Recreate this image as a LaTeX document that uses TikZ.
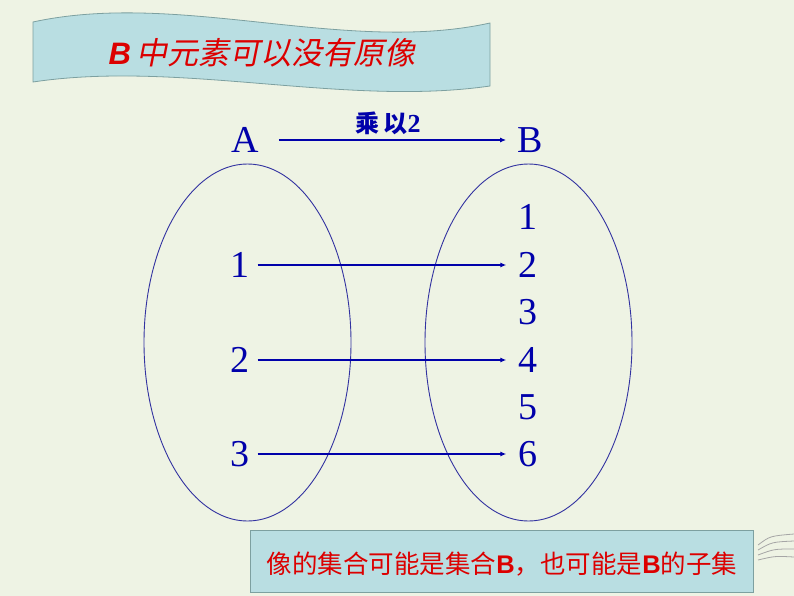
\documentclass[tikz,border=0pt]{standalone}
\usepackage{fontspec}
\setmainfont{Liberation Serif}
\setsansfont{Liberation Sans}
\newfontfamily\cjk{Noto Sans CJK SC}
\newfontfamily\cjkit[FakeSlant=0.2]{Noto Sans CJK SC}
\usepackage{tikz}
\usetikzlibrary{arrows.meta}
\definecolor{bgcol}{RGB}{238,243,228}
\definecolor{bannercol}{RGB}{185,222,226}
\definecolor{edgecol}{RGB}{125,160,160}
\definecolor{setblue}{RGB}{0,0,170}
\definecolor{ringblue}{RGB}{50,50,160}
\definecolor{redtext}{RGB}{220,0,0}
\tikzset{
  elem/.style={text=setblue,font=\fontsize{38}{38}\selectfont,inner sep=0pt},
  maparrow/.style={setblue,line width=1.2pt,-{Latex[length=6pt,width=5pt]}},
  ring/.style={ringblue,line width=0.9pt},
}

\begin{document}
\begin{tikzpicture}[x=1pt,y=-1pt]
            \fill[bgcol] (0,0) rectangle (794,596);
            \useasboundingbox (0,0) rectangle (794,596);

            \filldraw[fill=bannercol,draw=edgecol,line width=0.8pt] (33,22) .. controls (180,-10) and (345,55) .. (490,23)
              -- (490,86) .. controls (345,107) and (180,60) .. (33,82) -- cycle;
            \node[text=redtext,inner sep=0pt] (title) at (262,53)
              {\fontsize{31}{31}\selectfont{\sffamily\bfseries\itshape B}\,{\cjkit\mdseries 中元素可以没有原像}};

            \draw[ring] (247.5,342.5) ellipse [x radius=103.5,y radius=178.5];
            \draw[ring] (528.5,342.5) ellipse [x radius=103.5,y radius=178.5];

            \node[elem,inner xsep=0pt] (A) at (245,140) {A};
            \node[elem] (B) at (530,140) {B};
            \draw[maparrow,shorten <=20pt,shorten >=11pt] (A) -- node[above=5pt,text=setblue,inner sep=0pt]
              {\cjk\bfseries\fontsize{24}{24}\selectfont 乘\,以{\rmfamily\bfseries\fontsize{26}{26}\selectfont 2}} (B);

            \node[elem,inner xsep=8pt] (a1) at (240,265) {1};
            \node[elem,inner xsep=8pt] (a2) at (240,360) {2};
            \node[elem,inner xsep=8pt] (a3) at (240,454) {3};

            \node[elem] (b1) at (528,217) {1};
            \node[elem,inner xsep=12pt] (b2) at (528,265) {2};
            \node[elem] (b3) at (528,312) {3};
            \node[elem,inner xsep=12pt] (b4) at (528,360) {4};
            \node[elem] (b5) at (528,407) {5};
            \node[elem,inner xsep=12pt] (b6) at (528,454) {6};

            \draw[maparrow] (a1) -- (b2);
            \draw[maparrow] (a2) -- (b4);
            \draw[maparrow] (a3) -- (b6);

            \draw[gray!70,line width=0.8pt] (758,545) .. controls (770,536) .. (794,534);
            \draw[gray!70,line width=0.8pt] (758,550) .. controls (772,542) .. (794,541);
            \draw[gray!70,line width=0.8pt] (758,555) .. controls (774,549) .. (794,549);
            \draw[gray!70,line width=0.8pt] (758,560) .. controls (775,556) .. (794,557);

            \filldraw[fill=bannercol,draw=edgecol,line width=0.8pt] (250,530) rectangle (753,592);
            \node[text=redtext,inner sep=0pt] (note) at (502,564)
              {\cjk\fontsize{25.5}{26}\selectfont 像的集合可能是集合{\sffamily\bfseries B}，也可能是{\sffamily\bfseries B}的子集};
        \end{tikzpicture}
\end{document}
